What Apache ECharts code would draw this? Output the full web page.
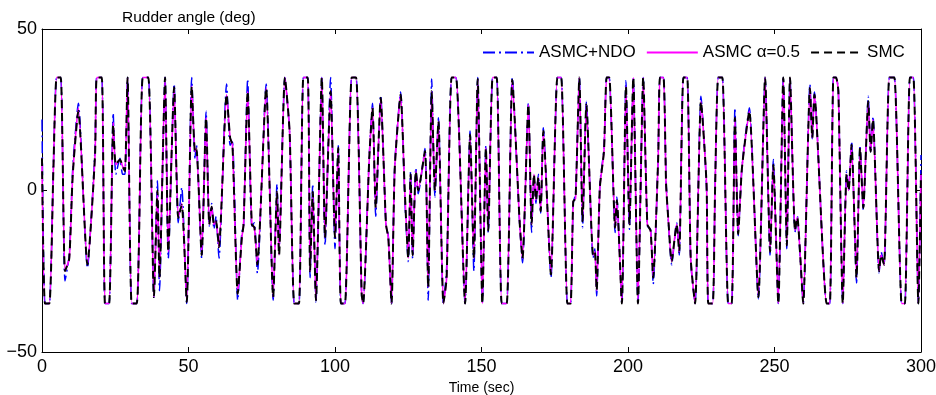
<!DOCTYPE html>
<html>
<head>
<meta charset="utf-8">
<script src="https://cdn.jsdelivr.net/npm/echarts@6/dist/echarts.min.js"></script>
<style>
html,body{margin:0;padding:0;background:#fff;}
#c{width:936px;height:395px;}
</style>
</head>
<body>
<div id="c"></div>
<script>
// Time (sec)
const time = [0,1.0,2.5,3.9,5.0,6.4,7.85,9.3,10.5,12.4,15.5,18.1,18.7,20.4,21.5,22.9,24.3,25.2,26.6,27.5,28.3,29.2,30.6,32.3,33.0,34.4,36.3,38.2,39.4,40.1,42.0,43.1,45.1,46.5,47.7,49.4,51.1,52.2,52.7,54.5,56.0,57.1,57.9,58.7,59.4,60.4,63.0,64.2,65.0,66.8,68.2,68.8,70.2,71.6,72.5,73.5,76.5,78.9,80.2,80.9,82.9,84.5,86.1,87.7,89.2,90.7,91.5,92.4,93.5,95.5,96.6,98.5,100.0,101.1,102.0,103.4,105.7,107.2,109.1,109.6,111.7,112.8,113.9,115.6,117.4,118.2,119.3,120.4,122.4,123.8,125.0,125.8,126.5,127.6,128.4,130.7,131.8,133.0,134.1,135.3,137.0,138.1,139.8,141.3,144.4,146.1,147.4,148.7,150.3,151.5,152.3,153.8,155.2,156.9,158.6,160.5,163.0,164.0,166.0,167.1,167.9,168.6,169.4,170.2,171.1,173.7,175.9,177.2,179.3,180.4,181.3,182.1,183.4,184.5,185.8,188.1,188.7,189.3,190.4,191.8,192.7,193.6,195.6,196.2,197.9,199.3,200.5,201.8,203.4,205.2,206.6,207.7,208.6,210.3,210.9,212.1,213.0,213.8,214.9,216.6,217.5,218.9,220.2,221.4,222.9,224.9,226.8,227.4,228.9,229.7,230.8,232.2,234.2,235.4,236.5,237.6,238.8,239.9,241.4,244.5,246.8,248.5,249.6,251.3,253.0,254.2,255.3,257.0,257.8,258.7,259.8,262.1,262.9,263.6,267.8,268.9,270.1,271.0,271.8,273.3,274.6,275.3,276.3,278.0,279.2,280.3,282.0,282.8,283.6,285.7,286.4,287.4,289.2,290.9,293.4,294.5,296.2,297.4,299.1,300];

// SMC rudder angle (deg)
const smc = [10,-35,-35,7,35,35,-25,-21,5,24.6,-23,11,35,35,-35,-35,20.4,8,9.6,7.5,6,35,-35,-35,-20,35,35,-33,0,-27,35,-19,32,-8.5,-4.4,-34.5,32.3,12,13,-20,22.5,-10.5,-5,-10.5,-9.5,-17.6,29.7,16.3,14.2,-32,-14.6,-10.5,30.7,-10.5,-11.5,-23,31.7,-33,-0.4,-20,35,18.4,-35,-35,35,35,-25,-0.4,-34,35,-14.6,30.7,-14.6,13.2,-35,-35,35,35,-32,-35,10,25.6,-5.4,28.7,-10.5,-14.6,-35,7,29.7,0,-21,5,-20,6,0,12.2,-30,30.7,0,21.4,-35,-27,35,35,-35,17.3,-21,34.5,-35,13.2,-12.4,35,35,-35,-35,34.3,-9.5,-21,26.6,-10.5,5,-3,4,-6.4,18.4,-26,35,35,-35,-35,-3.4,-2.5,35,-9.5,26.6,-20,-19,-31,1,12.2,35,35,-11.5,-3,-35,32.3,-10.5,35,-35,35,-10.5,-12.4,-27,10,35,35,2,-9.5,-22,-10.5,-19,35,35,-21,-35,27.6,2,-35,-35,-0.4,35,35,-35,-35,22.5,-13.5,6,15,24.6,-33,35,-19,8,-35,35,-17,35,-12.4,-8.3,-19,-35,31.7,16.3,29.7,-35,-35,35,35,30.7,-35,5,0,14.2,-27,13.2,-5.4,27.6,12,22,-25,-20,-23,35,35,-35,-35,35,35,-35,5];

// ASMC alpha=0.5 rudder angle (deg)
const asmc = [10,-35,-35,7,35,35,-25,-21,5,25.5,-23,11,35,35,-35,-35,21,8,9.6,7.5,6,35,-35,-35,-20,35,35,-33,0,-27,35,-19,32,-8.5,-4,-34.5,32.3,12,13,-20,22.5,-10.5,-5,-10.5,-9.5,-17.6,29.7,16.3,14.2,-32,-14.6,-10.5,30.7,-10.5,-11.5,-23,31.7,-33,-0.4,-20,35,18.4,-35,-35,35,35,-25,-0.4,-34,35,-14.6,31,-14.6,13.2,-35,-35,35,35,-32,-35,10,25.6,-5.4,28.7,-10.5,-14.6,-35,7,29.7,0,-21,5,-20,6,0,12.2,-30,30.7,0,21.4,-35,-27,35,35,-35,17.3,-21,34.5,-35,13.2,-12.4,35,35,-35,-35,34.3,-9.5,-21,26.6,-10.5,5,-3,4,-6.4,18.4,-26,35,35,-35,-35,-3.4,-2.5,35,-9.5,26.6,-20,-19,-31,1,12.2,35,35,-11.5,-3,-35,32.3,-10.5,35,-35,35,-10.5,-12.4,-27,10,35,35,2,-9.5,-22,-10.5,-19,35,35,-21,-35,27.6,2,-35,-35,-0.4,35,35,-35,-35,22.5,-13.5,6,15,24.6,-33,35,-19,8,-35,35,-17,35,-12.4,-8.3,-19,-35,31.7,16.3,29.7,-35,-35,35,35,30.7,-35,5,0,14.2,-27,13.2,-5.4,27.6,12,22,-25,-20,-23,35,35,-35,-35,35,35,-35,5];

// ASMC+NDO rudder angle (deg)
const asmcNdo = [22,-35,-35,8,35,35,-28,-20,7,27,-24,13,35,35,-35,-35,24,5,10,5,5,35,-35,-35,-19,35,35,-33,3,-31,35,-21,33,-10,1,-35,35,10,14,-21,24.5,-11,-4,-12,-8,-21,33,14,15,-34,-13,-11,34.5,-11,-10,-25.6,33,-34,2,-18,35,18,-35,-35,35,35,-27,2,-34.5,35,-17,35,-18,14,-35,-35,35,35,-33,-35,11,27,-8,29.5,-11,-14,-35,8,30.5,-2,-22,6,-21,7,-1,13,-34,34.5,-2,22.5,-35,-24,35,35,-35,18.4,-25,35,-35,14,-13,35,35,-35,-35,35,-10,-22.4,27.2,-13,4,-4,5,-7,19.4,-27,35,35,-35,-35,-4,-1,35,-11.5,27.6,-21,-18,-32.7,2,13,35,35,-13,-2,-35,34,-12,35,-35,35,-11,-12,-29,11,35,35,3,-10,-23,-10,-20,35,35,-22,-35,29.2,1,-35,-35,0,35,35,-35,-35,25.6,-14,6,16,25.6,-33.7,35,-20,9.6,-35,35,-18,35,-13,-8,-20,-35,33,16,30.5,-35,-35,35,35,31,-35,6,0,15.2,-28.6,14,-6,29.2,12,23,-25.5,-19,-23,35,35,-35,-35,35,35,-35,11];

const xTicks = [0,50,100,150,200,250,300];
const yTicks = [-50,0,50];

function pairs(ys){ return time.map((t,i)=>[t, ys[i]]); }

const chart = echarts.init(document.getElementById('c'), null, {renderer:'canvas'});
const font = 'Liberation Sans, Arial, Helvetica, sans-serif';
function axisCommon(){
  return {
    axisLine:{show:true,onZero:false,lineStyle:{color:'#000',width:1}},
    axisTick:{show:true,inside:true,length:5,lineStyle:{color:'#000',width:1}},
    splitLine:{show:false}
  };
}
chart.setOption({
  animation:false,
  backgroundColor:'#fff',
  title:{text:'Rudder angle (deg)',left:117,top:5,textStyle:{fontFamily:font,fontSize:15.5,fontWeight:'normal',color:'#000'}},
  legend:{
    left:477, top:39, itemWidth:51, itemHeight:10, itemGap:10,
    itemStyle:{opacity:0},
    textStyle:{fontFamily:font,fontSize:17,color:'#000'},
    data:['ASMC+NDO','ASMC \u03b1=0.5','SMC']
  },
  grid:{left:42,right:15,top:29,bottom:43,containLabel:false,outerBoundsMode:'none'},
  xAxis:[
    Object.assign({type:'value',min:xTicks[0],max:xTicks[xTicks.length-1],interval:50,position:'bottom',
      name:'Time (sec)',nameLocation:'middle',nameGap:24,
      nameTextStyle:{fontFamily:font,fontSize:14,color:'#000'},
      axisLabel:{fontFamily:font,fontSize:18,color:'#000',margin:6}},axisCommon()),
    Object.assign({type:'value',min:0,max:300,interval:50,position:'top',axisLabel:{show:false}},axisCommon())
  ],
  yAxis:[
    Object.assign({type:'value',min:yTicks[0],max:yTicks[yTicks.length-1],interval:50,position:'left',
      axisLabel:{fontFamily:font,fontSize:18,color:'#000',margin:5,formatter:v=>String(v).replace('-','\u2212')}},axisCommon()),
    Object.assign({type:'value',min:-50,max:50,interval:50,position:'right',axisLabel:{show:false}},axisCommon())
  ],
  series:[
    {name:'ASMC+NDO',type:'line',data:pairs(asmcNdo),showSymbol:false,symbol:'none',smooth:0.2,
      lineStyle:{color:'#0000ff',width:1.5,type:[12,4,2,4]},itemStyle:{color:'#0000ff'},z:1},
    {name:'ASMC \u03b1=0.5',type:'line',data:pairs(asmc),showSymbol:false,symbol:'none',smooth:0.2,
      lineStyle:{color:'#ff00ff',width:1.6,type:'solid'},itemStyle:{color:'#ff00ff'},z:2},
    {name:'SMC',type:'line',data:pairs(smc),showSymbol:false,symbol:'none',smooth:0.2,
      lineStyle:{color:'#000000',width:2,type:[8,5]},itemStyle:{color:'#000000'},z:3}
  ]
});
</script>
</body>
</html>
